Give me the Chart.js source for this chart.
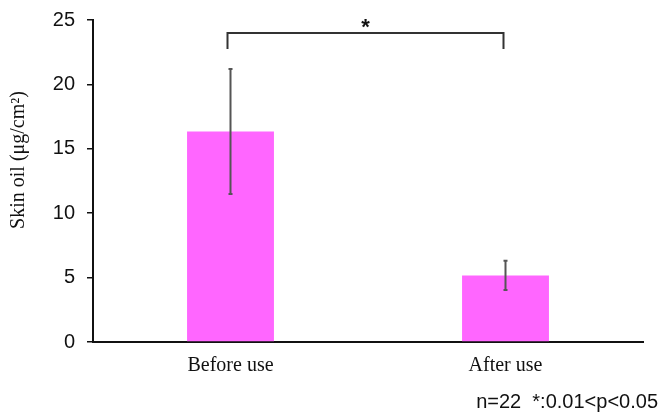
<!DOCTYPE html>
<html>
<head>
<meta charset="utf-8">
<script src="https://cdn.jsdelivr.net/npm/chart.js@4"></script>
<style>
  body { margin: 0; background: #fff; }
  canvas { display: block; }
</style>
</head>
<body>
<canvas id="skinChart" width="662" height="417"></canvas>
<script>
const categories = ['Before use', 'After use'];
const means = [16.35, 5.17];
const sds = [4.85, 1.14];
const sigLabel = '*';
const noteText = 'n=22  *:0.01<p<0.05';
const yTitle = 'Skin oil (\u03bcg/cm\u00b2)';

// error bars, significance bracket, axis title and footnote
const extras = {
  id: 'extras',
  afterDatasetsDraw(chart) {
    const ctx = chart.ctx;
    const x = chart.scales.x, y = chart.scales.y;
    ctx.save();

    ctx.strokeStyle = '#555';
    ctx.lineWidth = 2;
    means.forEach((m, i) => {
      const cx = x.getPixelForValue(i);
      const top = y.getPixelForValue(m + sds[i]);
      const bot = y.getPixelForValue(m - sds[i]);
      ctx.beginPath();
      ctx.moveTo(cx, top); ctx.lineTo(cx, bot);
      ctx.moveTo(cx - 2, top); ctx.lineTo(cx + 2, top);
      ctx.moveTo(cx - 2, bot); ctx.lineTo(cx + 2, bot);
      ctx.stroke();
    });

    // bracket
    const x1 = x.getPixelForValue(0) - 3;
    const x2 = x.getPixelForValue(1) - 2;
    const yb = y.getPixelForValue(24.0);
    const ye = y.getPixelForValue(22.75);
    ctx.strokeStyle = '#333';
    ctx.lineWidth = 2;
    ctx.beginPath();
    ctx.moveTo(x1, ye); ctx.lineTo(x1, yb); ctx.lineTo(x2, yb); ctx.lineTo(x2, ye);
    ctx.stroke();

    ctx.fillStyle = '#111';
    ctx.font = 'bold 22px "Liberation Sans", Arial, sans-serif';
    ctx.textAlign = 'center';
    ctx.textBaseline = 'alphabetic';
    ctx.fillText(sigLabel, (x1 + x2) / 2, yb + 1);

    // y title
    ctx.save();
    ctx.translate(19, 160);
    ctx.rotate(-Math.PI / 2);
    ctx.font = '20px "Liberation Serif", "Times New Roman", serif';
    ctx.textBaseline = 'middle';
    ctx.fillText(yTitle, 0, 0);
    ctx.restore();

    // footnote
    ctx.font = '20px "Liberation Sans", Arial, sans-serif';
    ctx.textAlign = 'right';
    ctx.fillText(noteText, 658, 408);
    ctx.restore();
  }
};

new Chart(document.getElementById('skinChart'), {
  type: 'bar',
  data: {
    labels: categories,
    datasets: [{
      data: means,
      backgroundColor: '#ff66ff',
      borderWidth: 0,
      categoryPercentage: 1,
      barPercentage: 0.316
    }]
  },
  options: {
    responsive: false,
    animation: false,
    layout: { padding: { top: 20, right: 19, bottom: 0, left: 0 } },
    plugins: { legend: { display: false }, tooltip: { enabled: false } },
    scales: {
      x: {
        grid: { display: false, drawTicks: false },
        border: { display: true, color: '#111', width: 2 },
        ticks: {
          color: '#111',
          padding: 12,
          font: { family: '"Liberation Serif", "Times New Roman", serif', size: 20 }
        },
        afterFit(s) { s.height = 75; }
      },
      y: {
        min: 0,
        max: 25,
        grid: { drawOnChartArea: false, color: '#111', tickLength: 6, lineWidth: 1.5 },
        border: { display: true, color: '#111', width: 2 },
        ticks: {
          stepSize: 5,
          color: '#111',
          padding: 12,
          font: { family: '"Liberation Sans", Arial, sans-serif', size: 20, lineHeight: 1 }
        },
        afterFit(s) { s.width = 93; s.paddingTop = 0; s.paddingBottom = 0; }
      }
    }
  },
  plugins: [extras]
});
</script>
</body>
</html>
